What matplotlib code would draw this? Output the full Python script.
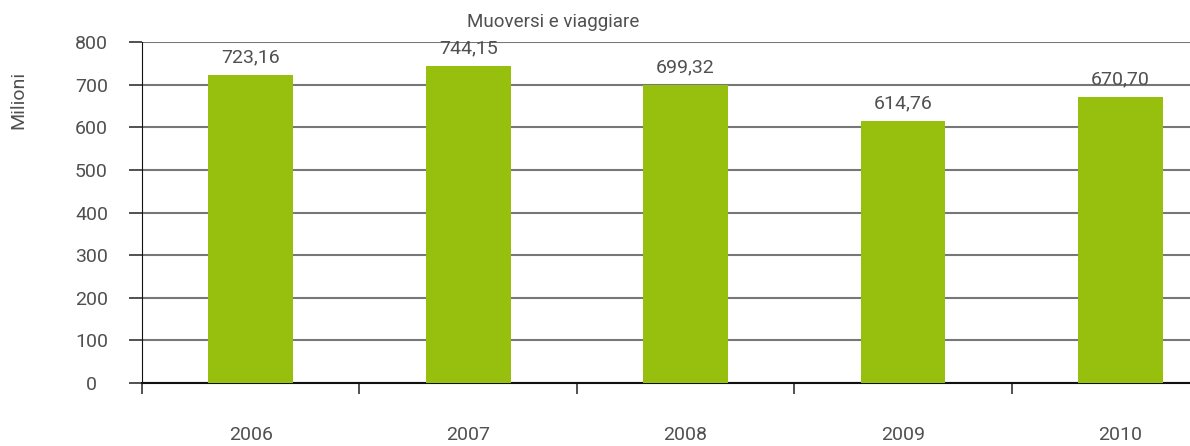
import matplotlib.pyplot as plt
import numpy as np

years = ["2006", "2007", "2008", "2009", "2010"]
values = [723.16, 744.15, 699.32, 614.76, 670.70]

plt.rcParams['font.family'] = ['Roboto', 'DejaVu Sans']
txt = "#505050"

fig = plt.figure(figsize=(11.9, 4.46), dpi=100)
ax = fig.add_axes([142 / 1190, 1 - 383 / 446, 1 - 142 / 1190, (383 - 42) / 446])

x = np.arange(len(years))
ax.bar(x, values, width=0.39, color="#97bf0d", zorder=3)

# value labels above the bars
for xi, v in zip(x, values):
    ax.annotate(f"{v:.2f}".replace(".", ","), (xi, v), xytext=(0, 6),
                textcoords="offset points", ha="center", va="bottom",
                fontsize=14, color=txt)

ax.set_ylim(0, 800)
ax.set_xlim(-0.5, 4.32)
ax.set_yticks(range(0, 801, 100))
ax.yaxis.grid(True, color="#777777", linewidth=1.5, zorder=0)
ax.tick_params(axis="y", length=9.4, width=1.2, color="#333333",
               labelsize=14, labelcolor=txt, pad=27)
for lab in ax.get_yticklabels():
    lab.set_horizontalalignment("center")

ax.set_xticks(x)
ax.set_xticklabels(years)
ax.set_xticks(np.arange(len(years)) - 0.5, minor=True)
ax.tick_params(axis="x", which="major", length=0, pad=31,
               labelsize=14, labelcolor=txt)
ax.tick_params(axis="x", which="minor", length=8, width=1.2, color="#333333")

for s in ["top", "right"]:
    ax.spines[s].set_visible(False)
ax.spines["left"].set_color("#111111")
ax.spines["bottom"].set_color("#111111")
ax.spines["bottom"].set_linewidth(1.5)

fig.text(18 / 1190, 1 - 100 / 446, "Milioni", rotation=90, ha="center", va="center",
         fontsize=14, color=txt)
fig.text(553 / 1190, 1 - 22 / 446, "Muoversi e viaggiare", ha="center", va="center",
         fontsize=13.5, color=txt)

plt.savefig("out.png")
